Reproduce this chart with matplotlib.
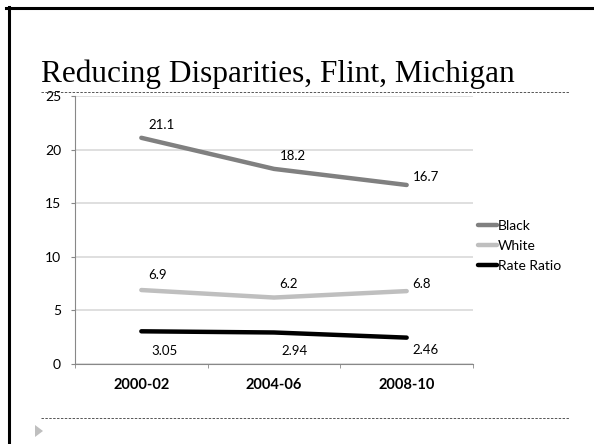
import matplotlib.pyplot as plt
from matplotlib.lines import Line2D
from matplotlib.patches import Polygon

# data
periods = ['2000-02', '2004-06', '2008-10']
black = [21.1, 18.2, 16.7]
white = [6.9, 6.2, 6.8]
rate_ratio = [3.05, 2.94, 2.46]
black_labels = ['21.1', '18.2', '16.7']
white_labels = ['6.9', '6.2', '6.8']
ratio_labels = ['3.05', '2.94', '2.46']

W, H = 594, 444
fig = plt.figure(figsize=(W / 100, H / 100), dpi=100)

def px(x, y):
    # slide pixel -> figure fraction
    return x / W, 1 - y / H

# slide frame: thick black line on top and left
fig.add_artist(Line2D([6 / W, 1.0], [px(0, 8)[1]] * 2, color='black', lw=2.2))
fig.add_artist(Line2D([8.5 / W] * 2, [0.0, px(0, 7)[1]], color='black', lw=2.2))

# title and dotted rules
fig.text(41 / W, px(0, 82)[1], 'Reducing Disparities, Flint, Michigan',
         family='Liberation Serif', fontsize=22.5, color='black', va='baseline')
dash = dict(color='#555555', lw=0.7, ls=(0, (2.5, 1.5)))
fig.add_artist(Line2D([41 / W, 569 / W], [px(0, 92)[1]] * 2, **dash))
fig.add_artist(Line2D([41 / W, 569 / W], [px(0, 418)[1]] * 2, **dash))
fig.add_artist(Polygon([px(35, 425), px(35, 437), px(43, 431)], closed=True,
                       transform=fig.transFigure, color='#bfbfbf', lw=0))

# plot area: x from 75 to 473 px, y from 96 to 364 px
ax = fig.add_axes([75 / W, 1 - 364 / H, 398 / W, 268 / H])
x = range(len(periods))
lb, = ax.plot(x, black, color='#808080', lw=3.2, solid_capstyle='round', label='Black')
lw_, = ax.plot(x, white, color='#bfbfbf', lw=3.2, solid_capstyle='round', label='White')
lr, = ax.plot(x, rate_ratio, color='black', lw=3.2, solid_capstyle='round', label='Rate Ratio')

# label offsets in points (left edge of text, vertical centre)
lab_font = dict(family='Lato', fontsize=9.5, color='black')
black_off = [(5, 9.5), (4, 9.5), (4.5, 6)]
white_off = [(5, 11), (4, 10), (4, 5)]
ratio_off = [(7.5, -14.5), (5, -13.5), (4, -9)]
for i in x:
    ax.annotate(black_labels[i], (i, black[i]), xytext=black_off[i], textcoords='offset points',
                ha='left', va='center', **lab_font)
    ax.annotate(white_labels[i], (i, white[i]), xytext=white_off[i], textcoords='offset points',
                ha='left', va='center', **lab_font)
    ax.annotate(ratio_labels[i], (i, rate_ratio[i]), xytext=ratio_off[i], textcoords='offset points',
                ha='left', va='center', **lab_font)

ax.set_xlim(-0.5, 2.5)
ax.set_ylim(0, 25)
ax.set_yticks([0, 5, 10, 15, 20, 25])
ax.set_xticks(list(x))
ax.set_xticklabels(periods, family='Lato', fontsize=10.5, fontweight='bold')
for t in ax.get_yticklabels():
    t.set_family('Lato')
    t.set_fontsize(10)
ax.set_xticks([-0.5, 0.5, 1.5, 2.5], minor=True)
ax.tick_params(axis='x', which='major', length=0, pad=10)
ax.tick_params(axis='x', which='minor', length=3, color='#888888', direction='out')
ax.tick_params(axis='y', length=3, color='#888888', pad=7)
ax.grid(axis='y', color='#d9d9d9', lw=1.2)
ax.set_axisbelow(True)
for s in ['top', 'right']:
    ax.spines[s].set_visible(False)
ax.spines['left'].set_color('#888888')
ax.spines['bottom'].set_color('#888888')

fig.legend(handles=[lb, lw_, lr], loc='center left', bbox_to_anchor=px(478, 246),
           frameon=False, borderpad=0, borderaxespad=0, handlelength=1.4,
           handletextpad=0.05, labelspacing=0.6, prop={'family': 'Lato', 'size': 10})

fig.savefig('out.png', dpi=100)
